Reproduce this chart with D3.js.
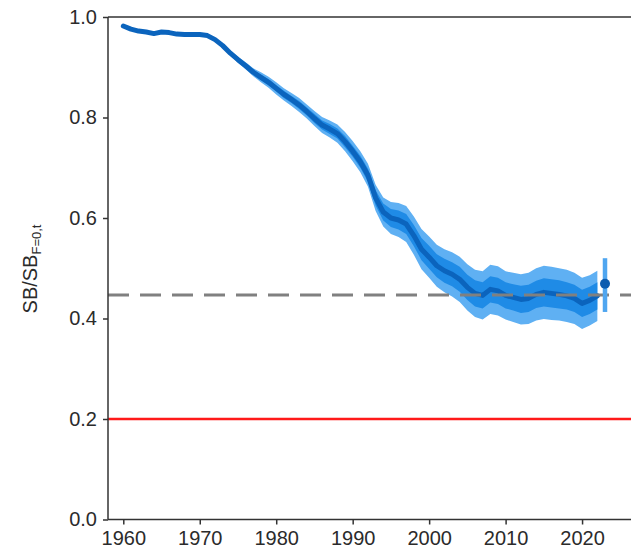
<!DOCTYPE html>
<html>
<head>
<meta charset="utf-8">
<script src="https://cdn.jsdelivr.net/npm/d3@7"></script>
<style>
  html, body { margin: 0; padding: 0; background: #fff; }
  svg { display: block; font-family: "Liberation Sans", Arial, sans-serif; }
</style>
</head>
<body>
<svg id="chart" width="631" height="551"></svg>
<script>
// ---- data ----
const years = d3.range(1960, 2023);
const median = [
  0.982, 0.976, 0.972, 0.970, 0.967, 0.970, 0.969, 0.966, 0.965, 0.965,
  0.965, 0.963, 0.955, 0.943, 0.928, 0.915, 0.903, 0.890, 0.880, 0.870,
  0.858, 0.846, 0.836, 0.825, 0.812, 0.798, 0.785, 0.777, 0.768, 0.752,
  0.733, 0.712, 0.685, 0.640, 0.612, 0.600, 0.596, 0.588, 0.565, 0.538,
  0.522, 0.505, 0.495, 0.488, 0.478, 0.462, 0.450, 0.446, 0.458, 0.455,
  0.446, 0.442, 0.438, 0.440, 0.448, 0.452, 0.450, 0.448, 0.445, 0.440,
  0.430, 0.436, 0.445
];
// half-widths of the outer (light) and inner (mid) bands
const outerHalf = [
  0.002, 0.002, 0.002, 0.002, 0.002, 0.002, 0.002, 0.002, 0.002, 0.002,
  0.002, 0.003, 0.003, 0.004, 0.005, 0.006, 0.007, 0.008, 0.010, 0.011,
  0.012, 0.012, 0.013, 0.014, 0.014, 0.015, 0.016, 0.017, 0.018, 0.019,
  0.020, 0.021, 0.023, 0.026, 0.029, 0.032, 0.034, 0.036, 0.038, 0.040,
  0.041, 0.042, 0.043, 0.044, 0.045, 0.046, 0.047, 0.048, 0.049, 0.049,
  0.048, 0.049, 0.050, 0.051, 0.052, 0.053, 0.053, 0.052, 0.052, 0.051,
  0.051, 0.050, 0.050
];
const innerHalf = [
  0.001, 0.001, 0.001, 0.001, 0.001, 0.001, 0.001, 0.001, 0.001, 0.001,
  0.001, 0.001, 0.002, 0.002, 0.003, 0.003, 0.004, 0.004, 0.005, 0.006,
  0.006, 0.007, 0.007, 0.008, 0.008, 0.009, 0.009, 0.010, 0.010, 0.011,
  0.011, 0.012, 0.013, 0.015, 0.017, 0.018, 0.019, 0.020, 0.021, 0.022,
  0.023, 0.023, 0.024, 0.024, 0.025, 0.025, 0.026, 0.026, 0.026, 0.026,
  0.026, 0.026, 0.027, 0.027, 0.027, 0.028, 0.028, 0.028, 0.027, 0.027,
  0.027, 0.027, 0.027
];
const projYear = [2023];
const projMid = [0.469];
const projLo = [0.413];
const projHi = [0.520];
const refTarget = 0.447;  // dashed grey
const refLimit = 0.2;     // red
const refTop = 1.0;
const xTicks = [1960, 1970, 1980, 1990, 2000, 2010, 2020];
const yTicks = [0.0, 0.2, 0.4, 0.6, 0.8, 1.0];

// ---- layout ----
const svg = d3.select("#chart");
const pLeft = 108, pRight = 631, pTop = 17, pBottom = 519.5;
const x = d3.scaleLinear().domain([1958, 2026.4]).range([pLeft, pRight]);
const y = d3.scaleLinear().domain([0, 1]).range([pBottom, pTop]);

const rows = years.map((yr, i) => ({
  yr, m: median[i],
  olo: median[i] - outerHalf[i], ohi: median[i] + outerHalf[i],
  ilo: median[i] - innerHalf[i], ihi: median[i] + innerHalf[i]
}));

const axisColor = "#333";
const textColor = "#2b2b2b";

// reference lines
svg.append("line")
  .attr("x1", pLeft).attr("x2", pRight)
  .attr("y1", y(refLimit)).attr("y2", y(refLimit))
  .attr("stroke", "#ff1a1a").attr("stroke-width", 2.6);

// bands
svg.append("path").datum(rows)
  .attr("fill", "#5fb0f3")
  .attr("d", d3.area().x(d => x(d.yr)).y0(d => y(d.olo)).y1(d => y(d.ohi)));
svg.append("path").datum(rows)
  .attr("fill", "#1f8be6")
  .attr("d", d3.area().x(d => x(d.yr)).y0(d => y(d.ilo)).y1(d => y(d.ihi)));
svg.append("path").datum(rows)
  .attr("fill", "none").attr("stroke", "#0b64bd").attr("stroke-width", 5)
  .attr("stroke-linejoin", "round").attr("stroke-linecap", "round")
  .attr("d", d3.line().x(d => x(d.yr)).y(d => y(d.m)));

// dashed target line
svg.append("line")
  .attr("x1", pLeft).attr("x2", pRight)
  .attr("y1", y(refTarget)).attr("y2", y(refTarget))
  .attr("stroke", "#808080").attr("stroke-width", 3)
  .attr("stroke-dasharray", "21,11");

// projection point with error bar
projYear.forEach((yr, i) => {
  svg.append("line")
    .attr("x1", x(yr)).attr("x2", x(yr))
    .attr("y1", y(projLo[i])).attr("y2", y(projHi[i]))
    .attr("stroke", "#4fa6f0").attr("stroke-width", 4.5);
  svg.append("circle")
    .attr("cx", x(yr)).attr("cy", y(projMid[i])).attr("r", 5)
    .attr("fill", "#0b5cb0");
});

// top line at 1.0
svg.append("line")
  .attr("x1", pLeft).attr("x2", pRight)
  .attr("y1", y(refTop)).attr("y2", y(refTop))
  .attr("stroke", axisColor).attr("stroke-width", 1.5);

// axes
const yAxis = svg.append("g").attr("transform", `translate(${pLeft},0)`)
  .call(d3.axisLeft(y).tickValues(yTicks).tickFormat(d3.format(".1f")).tickSize(5).tickPadding(6));
const xAxis = svg.append("g").attr("transform", `translate(0,${pBottom})`)
  .call(d3.axisBottom(x).tickValues(xTicks).tickFormat(d3.format("d")).tickSize(5).tickPadding(6));
[yAxis, xAxis].forEach(g => {
  g.select(".domain").attr("stroke", axisColor).attr("stroke-width", 1.5);
  g.selectAll(".tick line").attr("stroke", axisColor).attr("stroke-width", 1.5);
  g.selectAll(".tick text").attr("fill", textColor)
    .style("font-family", '"Liberation Sans", Arial, sans-serif').style("font-size", "20px");
});
yAxis.select(".domain").attr("d", `M0,${y(0)}V${y(1)}`);
xAxis.select(".domain").attr("d", `M${pLeft},0H${pRight}`);

// y-axis title
const yt = svg.append("text")
  .attr("transform", `translate(37,${269}) rotate(-90)`)
  .attr("text-anchor", "middle")
  .attr("fill", textColor)
  .style("font-size", "20px");
yt.append("tspan").text("SB/SB");
yt.append("tspan").attr("dy", 4).style("font-size", "13px").text("F=0,t");
</script>
</body>
</html>
